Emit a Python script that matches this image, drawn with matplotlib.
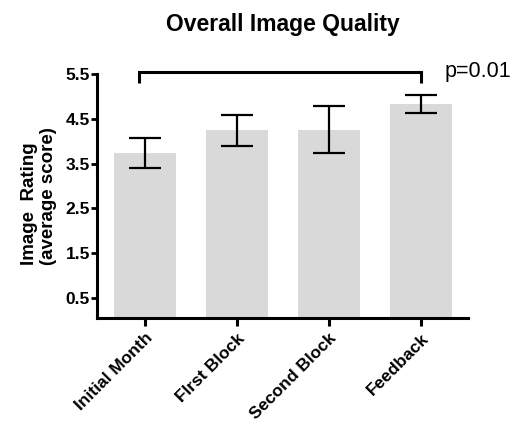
import matplotlib
matplotlib.use("Agg")
import matplotlib.pyplot as plt

plt.rcParams['font.family'] = ['Liberation Sans', 'DejaVu Sans']

categories = ["Initial Month", "FIrst Block", "Second Block", "Feedback"]
means = [3.74, 4.24, 4.26, 4.83]
errors = [0.33, 0.355, 0.53, 0.19]
yticks = [0.5, 1.5, 2.5, 3.5, 4.5, 5.5]
p_text = "p=0.01"

fig = plt.figure(figsize=(5.17, 4.26), dpi=100)
ax = fig.add_axes([97/517, 1-318/426, (468-97)/517, (318-74)/426])

x = list(range(len(categories)))
ax.bar(x, means, width=0.67, color="#d9d9d9", zorder=1)
ax.errorbar(x, means, yerr=errors, fmt="none", ecolor="black", elinewidth=1.6,
            capsize=11.5, capthick=1.6, zorder=2)

ax.set_xlim(-0.52, 3.51)
ax.set_ylim(0.05, 5.5)
ax.set_yticks(yticks)
ax.set_yticklabels([f"{v:.1f}" for v in yticks], fontsize=12.5, fontweight="bold")
ax.set_xticks(x)
ax.set_xticklabels(categories, rotation=45, ha="right", rotation_mode="anchor",
                   fontsize=12.5, fontweight="bold")
for s in ["top", "right"]:
    ax.spines[s].set_visible(False)
for s in ["left", "bottom"]:
    ax.spines[s].set_linewidth(2.2)
ax.tick_params(axis="y", length=4, width=2, pad=1)
ax.tick_params(axis="x", length=6, width=2.2, pad=3)

ax.set_ylabel("Image  Rating\n(average score)", fontsize=13.5, fontweight="bold",
              labelpad=6, linespacing=1.2, multialignment="left")

# significance bracket
y_top = 5.55
y_leg = 5.3
ax.plot([-0.06, -0.06, 3.0, 3.0], [y_leg, y_top, y_top, y_leg], color="black",
        lw=2.2, clip_on=False, solid_capstyle="butt", solid_joinstyle="miter")
ax.text(3.25, y_top, p_text, fontsize=15.5, va="center", ha="left")

fig.text(283/517, 1-31/426, "Overall Image Quality", fontsize=16.5,
         fontweight="bold", ha="center", va="baseline")

fig.savefig("out.png", dpi=100)
